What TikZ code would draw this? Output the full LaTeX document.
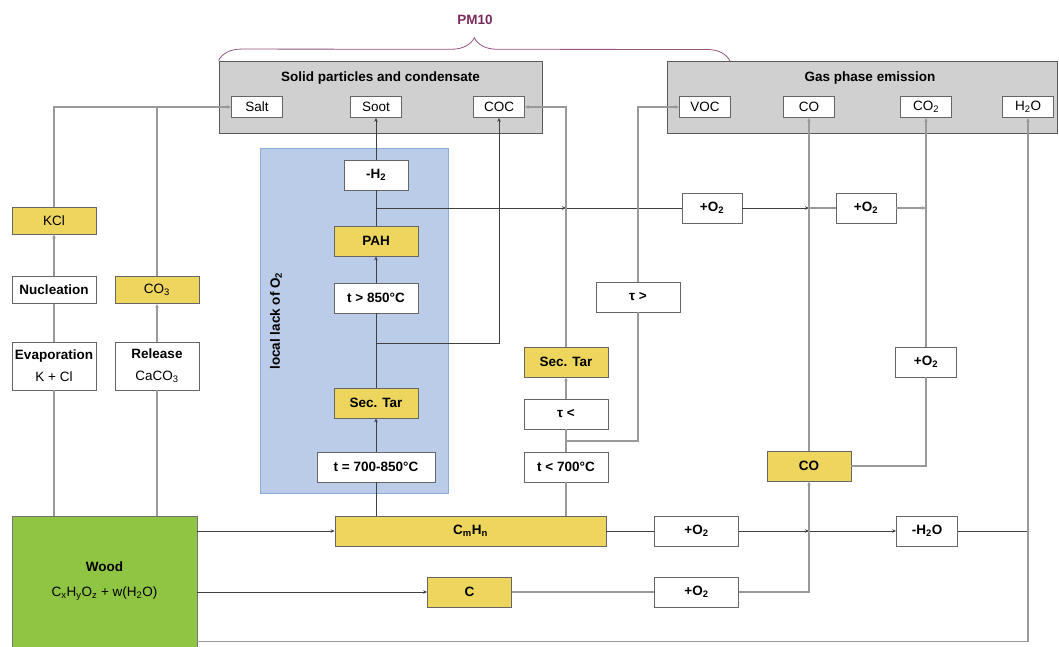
\documentclass[tikz,border=0pt]{standalone}
\usepackage{fontspec}
\setmainfont{Liberation Sans}
\usetikzlibrary{arrows.meta, positioning, calc, decorations.pathreplacing}

\definecolor{tarYellow}{RGB}{237,213,94}
\definecolor{woodGreen}{RGB}{143,197,66}
\definecolor{lackBlue}{RGB}{187,204,232}
\definecolor{lackEdge}{RGB}{142,172,222}
\definecolor{emisGray}{RGB}{208,208,208}
\definecolor{pmPurple}{RGB}{122,42,92}

\begin{document}
\begin{tikzpicture}[x=1pt, y=-1pt,
  pbox/.style={rectangle, draw=black!60, line width=0.8pt, fill=white, inner sep=0pt,
               minimum width=84pt, minimum height=30pt, align=center,
               font=\fontsize{13.5}{16}\selectfont},
  wbox/.style={pbox, font=\fontsize{13.5}{16}\selectfont\bfseries},
  ybox/.style={wbox, fill=tarYellow},
  tag/.style={pbox, minimum width=51pt, minimum height=21pt},
  group/.style={rectangle, draw=black!65, line width=0.9pt, fill=emisGray,
                minimum height=72pt, inner sep=0pt},
  grouptitle/.style={font=\fontsize{13.5}{16}\selectfont\bfseries, inner sep=0pt},
  link/.style={draw=black!40, line width=1.1pt},
  dlink/.style={draw=black!75, line width=0.9pt},
  arr/.style={-{Stealth[length=4pt,width=3.5pt]}},
]
\useasboundingbox (0,0) rectangle (1059,647);

% ---- groups ----
\node[rectangle, draw=lackEdge, line width=0.8pt, fill=lackBlue, inner sep=0pt,
      minimum width=188pt, minimum height=345pt] (lack) at (354,320.5) {};
\node[grouptitle, rotate=90] (lacklabel) at (276,321) {local lack of O\textsubscript{2}};
\node[group, minimum width=323pt] (solid) at (380.5,97) {};
\node[group, minimum width=390pt] (gas) at (862,97) {};
\node[grouptitle] (solidtitle) at (380.5,78) {Solid particles and condensate};
\node[grouptitle] (gastitle) at (870,78) {Gas phase emission};
\coordinate (braceend) at (730,61);
\draw[pmPurple!80, line width=0.8pt, decorate, decoration={brace, amplitude=23pt}]
  (solid.north west) -- (braceend);
\node[grouptitle, text=pmPurple] (pm) at (475,20) {PM10};

% ---- emissions ----
\node[tag] (salt)  at (257,107)  {Salt};
\node[tag] (soot)  at (376,107)  {Soot};
\node[tag] (coc)   at (499,107)  {COC};
\node[tag] (voc)   at (705,107)  {VOC};
\node[tag] (cogas) at (809,107)  {CO};
\node[tag] (cotwo) at (926,107)  {CO\textsubscript{2}};
\node[tag] (water) at (1028,107) {H\textsubscript{2}O};

% ---- inorganic ----
\node[pbox, fill=tarYellow, minimum height=27pt] (kcl)     at (54,220.5) {KCl};
\node[wbox, minimum height=27pt]                (nucl)    at (54,290)   {Nucleation};
\node[pbox, fill=tarYellow, minimum height=27pt] (cothree) at (157,290)  {CO\textsubscript{3}};
\node[pbox, minimum height=48pt] (evap)    at (54,366)  {\textbf{Evaporation}\\[6pt]K + Cl};
\node[pbox, minimum height=48pt] (release) at (157,366) {\textbf{Release}\\[6pt]CaCO\textsubscript{3}};

% ---- wood and primary products ----
\node[pbox, fill=woodGreen, draw=black!55, minimum width=185pt, minimum height=131pt] (wood)
  at (104.5,581.5) {\textbf{Wood}\\[9pt]C\textsubscript{x}H\textsubscript{y}O\textsubscript{z} + w(H\textsubscript{2}O)};
\node[ybox, minimum width=271pt] (cmhn)   at (470.5,531) {C\textsubscript{m}H\textsubscript{n}};
\node[ybox]                      (carbon) at (469.5,592) {C};

% ---- soot path ----
\node[wbox, minimum width=64pt]  (dehyd) at (376,175)   {-H\textsubscript{2}};
\node[ybox]                      (pah)   at (376,241)   {PAH};
\node[wbox]                      (thot)  at (376,298)   {t > 850°C};
\node[ybox]                      (tarA)  at (376,403)   {Sec. Tar};
\node[wbox, minimum width=118pt] (tmid)  at (376,467)   {t = 700-850°C};

% ---- secondary tar path ----
\node[ybox] (tarB)    at (566,362) {Sec. Tar};
\node[wbox] (tauless) at (566,414) {τ <};
\node[wbox] (tcold)   at (566,467) {t < 700°C};
\node[wbox] (taumore) at (638,297) {τ >};

% ---- oxidation ----
\node[wbox, minimum width=60pt] (oxD)     at (712,208)   {+O\textsubscript{2}};
\node[wbox, minimum width=60pt] (oxE)     at (866,208)   {+O\textsubscript{2}};
\node[wbox, minimum width=61pt] (oxC)     at (926,362)   {+O\textsubscript{2}};
\node[ybox]                     (coy)     at (809,466)   {CO};
\node[wbox]                     (oxA)     at (696.5,531) {+O\textsubscript{2}};
\node[wbox]                     (oxB)     at (696.5,592) {+O\textsubscript{2}};
\node[wbox, minimum width=61pt] (dewater) at (927,531)   {-H\textsubscript{2}O};

% ---- inorganic links ----
\draw[link] (wood.north -| evap.south) -- (evap.south);
\draw[link] (evap) -- (nucl);
\draw[link, arr] (nucl) -- (kcl);
\draw[link, arr] (kcl.north) |- (salt.west);
\draw[link] (wood.north -| release.south) -- (release.south);
\draw[link, arr] (release) -- (cothree);
\draw[link] (cothree.north) -- (cothree.north |- salt.west);

% ---- soot links ----
\draw[dlink, arr] (wood.east |- cmhn) -- (cmhn.west);
\draw[dlink, arr] (wood.east |- carbon) -- (carbon.west);
\draw[dlink] (cmhn.north -| tmid) -- (tmid);
\draw[dlink, arr] (tmid) -- (tarA);
\draw[dlink] (tarA) -- (thot);
\draw[dlink, arr] (thot) -- (pah);
\draw[dlink] (pah) -- (dehyd);
\draw[dlink, arr] (dehyd) -- (soot);
\coordinate (cocfork) at (376,343);
\draw[dlink, arr] (cocfork) -| (coc.south);
\coordinate (ohfork) at (376,208);
\draw[dlink, arr] (ohfork) -- (ohfork -| tarB.north);
\draw[dlink] (ohfork -| tarB.north) -- (oxD.west);
\draw[dlink, arr] (oxD.east) -- (oxD.east -| coy.north);
\draw[link] (oxD.east -| coy.north) -- (oxE.west);
\draw[link, arr] (oxE.east) -- (oxE.east -| oxC.north);

% ---- secondary tar links ----
\draw[link] (cmhn.north -| tcold) -- (tcold);
\draw[link] (tcold) -- (tauless);
\draw[link, arr] (tauless) -- (tarB);
\draw[link, arr] (tarB.north) |- (coc.east);
\coordinate (taufork) at (566,441);
\draw[link] (taufork) -| (taumore.south);
\draw[link, arr] (taumore.north) |- (voc.west);

% ---- oxidation links ----
\draw[link, arr] (coy) -- (cogas);
\draw[link] (coy.east) -| (oxC.south);
\draw[link, arr] (oxC) -- (cotwo);
\draw[dlink] (cmhn.east) -- (oxA.west);
\draw[dlink, arr] (oxA.east) -- (oxA.east -| coy.south);
\draw[dlink, arr] (oxA.east -| coy.south) -- (dewater.west);
\draw[dlink] (dewater.east) -- (dewater.east -| water.south);
\draw[link] (carbon.east) -- (oxB.west);
\draw[link, arr] (oxB.east) -| (coy.south);
\draw[link, arr] ([yshift=6pt]wood.south east) -| (water.south);

\end{tikzpicture}
\end{document}
